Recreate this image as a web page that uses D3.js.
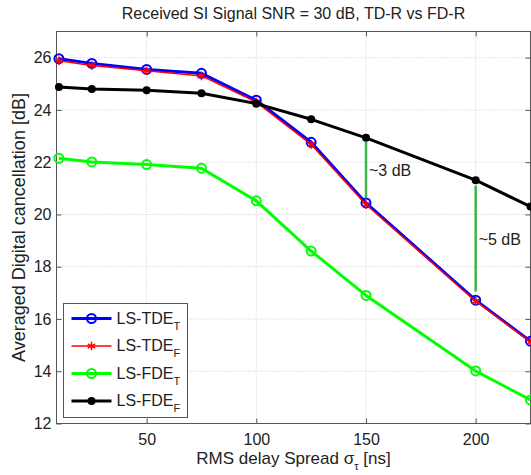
<!DOCTYPE html>
<html>
<head>
<meta charset="utf-8">
<script src="https://cdn.jsdelivr.net/npm/d3@7"></script>
<style>
  body { margin: 0; background: #fff; }
  svg { display: block; font-family: "Liberation Sans", Arial, sans-serif; }
</style>
</head>
<body>
<svg id="chart" width="531" height="475"></svg>
<script>
// data
const delaySpread = [10, 25, 50, 75, 100, 125, 150, 200, 225];
const lsTdeT = [25.96, 25.78, 25.55, 25.40, 24.37, 22.76, 20.44, 16.72, 15.15];
const lsTdeF = [25.88, 25.70, 25.50, 25.30, 24.30, 22.68, 20.38, 16.68, 15.12];
const lsFdeT = [22.15, 22.01, 21.91, 21.77, 20.52, 18.60, 16.90, 14.01, 12.90];
const lsFdeF = [24.88, 24.80, 24.75, 24.64, 24.24, 23.64, 22.93, 21.31, 20.30];
const xTicks = [50, 100, 150, 200];
const yTicks = [12, 14, 16, 18, 20, 22, 24, 26];
// gap annotations: [x, top, bottom, label]
const gaps = [[150, 22.78, 20.62, "~3 dB"], [200, 21.1, 17.05, "~5 dB"]];

const svg = d3.select("#chart"),
    margin = { top: 31.5, right: 0.5, bottom: 51.5, left: 56.5 },
    width = +svg.attr("width") - margin.left - margin.right,
    height = +svg.attr("height") - margin.top - margin.bottom;

const xScale = d3.scaleLinear().domain([8.9, 225]).range([0, width]);
const yScale = d3.scaleLinear().domain([12, 27]).range([height, 0]);

const g = svg.append("g")
    .attr("transform", "translate(" + margin.left + "," + margin.top + ")");

// grid
g.append("g").selectAll("line").data(xTicks).enter().append("line")
    .attr("x1", d => xScale(d)).attr("x2", d => xScale(d))
    .attr("y1", 0).attr("y2", height)
    .attr("stroke", "#c8c8c8").attr("stroke-dasharray", "1,2");
g.append("g").selectAll("line").data(yTicks).enter().append("line")
    .attr("y1", d => yScale(d)).attr("y2", d => yScale(d))
    .attr("x1", 0).attr("x2", width)
    .attr("stroke", "#c8c8c8").attr("stroke-dasharray", "1,2");

// axes (ticks inward, MATLAB style)
const axisColor = "#555";
const styleAxis = sel => {
    sel.select(".domain").remove();
    sel.selectAll(".tick line").attr("stroke", axisColor);
    sel.selectAll(".tick text").attr("fill", "#222").style("font-size", "16px")
        .style("font-family", "Liberation Sans, Arial, sans-serif");
};
g.append("g").attr("transform", "translate(0," + height + ")")
    .call(d3.axisBottom(xScale).tickValues(xTicks).tickSizeInner(-5).tickSizeOuter(0).tickPadding(10))
    .call(styleAxis);
g.append("g")
    .call(d3.axisTop(xScale).tickValues(xTicks).tickSizeInner(-5).tickSizeOuter(0).tickFormat(""))
    .call(styleAxis);
g.append("g")
    .call(d3.axisLeft(yScale).tickValues(yTicks).tickSizeInner(-5).tickSizeOuter(0).tickPadding(5))
    .call(styleAxis);
g.append("g").attr("transform", "translate(" + width + ",0)")
    .call(d3.axisRight(yScale).tickValues(yTicks).tickSizeInner(-5).tickSizeOuter(0).tickFormat(""))
    .call(styleAxis);

g.append("rect").attr("width", width).attr("height", height)
    .attr("fill", "none").attr("stroke", axisColor).attr("stroke-width", 1);

// series
const series = [
    { name: "TDE", sub: "T", values: lsTdeT, color: "#0000ff", width: 3, marker: "circle" },
    { name: "TDE", sub: "F", values: lsTdeF, color: "#ff0000", width: 1.5, marker: "star" },
    { name: "FDE", sub: "T", values: lsFdeT, color: "#00ff00", width: 3, marker: "circle" },
    { name: "FDE", sub: "F", values: lsFdeF, color: "#000000", width: 3, marker: "dot" }
];

const line = d3.line().x(d => xScale(d[0])).y(d => yScale(d[1]));

function drawMarker(sel, s, x, y) {
    if (s.marker === "circle") {
        sel.append("circle").attr("cx", x).attr("cy", y).attr("r", 4.5)
            .attr("fill", "none").attr("stroke", s.color).attr("stroke-width", 2);
    } else if (s.marker === "dot") {
        sel.append("circle").attr("cx", x).attr("cy", y).attr("r", 4)
            .attr("fill", s.color);
    } else {
        sel.append("path")
            .attr("d", d3.symbol().type(d3.symbolAsterisk).size(50)())
            .attr("transform", "translate(" + x + "," + y + ")")
            .attr("fill", "none").attr("stroke", s.color).attr("stroke-width", 1.5);
    }
}

const plot = g.append("g");
series.forEach(s => {
    const pts = delaySpread.map((x, i) => [x, s.values[i]]);
    plot.append("path").datum(pts).attr("d", line)
        .attr("fill", "none").attr("stroke", s.color).attr("stroke-width", s.width)
        .attr("stroke-linejoin", "round");
    pts.forEach(p => drawMarker(plot, s, xScale(p[0]), yScale(p[1])));
});

// gap annotations
gaps.forEach(a => {
    g.append("line")
        .attr("x1", xScale(a[0])).attr("x2", xScale(a[0]))
        .attr("y1", yScale(a[1])).attr("y2", yScale(a[2]))
        .attr("stroke", "#3cb44b").attr("stroke-width", 2.5);
    g.append("text")
        .attr("x", xScale(a[0]) + 3)
        .attr("y", yScale((a[1] + a[2]) / 2) + 6)
        .style("font-size", "16px").attr("fill", "#222")
        .text(a[3]);
});

// legend
const legend = g.append("g").attr("transform", "translate(7,272)");
legend.append("rect").attr("width", 124).attr("height", 114)
    .attr("fill", "#fff").attr("stroke", axisColor);
series.forEach((s, i) => {
    const y = 15 + i * 27.5;
    legend.append("line").attr("x1", 8).attr("x2", 48).attr("y1", y).attr("y2", y)
        .attr("stroke", s.color).attr("stroke-width", s.width);
    drawMarker(legend, s, 28, y);
    const t = legend.append("text").attr("x", 53).attr("y", y + 5)
        .style("font-size", "16px").attr("fill", "#222");
    t.append("tspan").text("LS-" + s.name);
    t.append("tspan").attr("dy", 6).style("font-size", "11px").text(s.sub);
});

// title and labels
svg.append("text")
    .attr("x", margin.left + width / 2).attr("y", 19)
    .attr("text-anchor", "middle").style("font-size", "16px").attr("fill", "#222")
    .text("Received SI Signal SNR = 30 dB, TD-R vs FD-R");

const xl = svg.append("text")
    .attr("x", margin.left + width / 2).attr("y", 464)
    .attr("text-anchor", "middle").style("font-size", "17px").attr("fill", "#222");
xl.append("tspan").text("RMS delay Spread \u03c3");
xl.append("tspan").attr("dy", 6).style("font-size", "11px").text("\u03c4");
xl.append("tspan").attr("dy", -6).text(" [ns]");

svg.append("text")
    .attr("transform", "translate(25," + (margin.top + height / 2) + ") rotate(-90)")
    .attr("text-anchor", "middle").style("font-size", "18px").attr("fill", "#222")
    .text("Averaged Digital cancellation [dB]");
</script>
</body>
</html>
